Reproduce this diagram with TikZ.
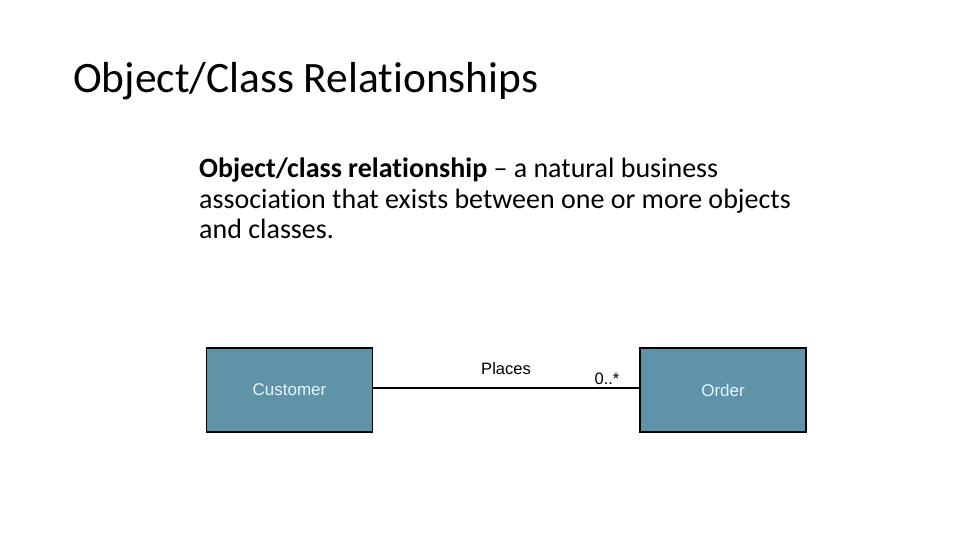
\documentclass[tikz,border=0pt]{standalone}
\usepackage{fontspec}
\setmainfont[Ligatures={NoCommon}]{Carlito}
\newfontfamily\arialf{Liberation Sans}
\definecolor{boxfill}{HTML}{5F93A8}
\definecolor{boxtext}{HTML}{E2F6FF}
\begin{document}
\begin{tikzpicture}[x=1pt,y=-1pt,
  classbox/.style={draw=black,line width=1.5pt,fill=boxfill,minimum width=166pt,minimum height=84pt,inner sep=0pt,text=boxtext,font=\arialf\fontsize{17}{19}\selectfont},
  lbl/.style={font=\arialf\fontsize{16.5}{18}\selectfont,inner sep=0pt},
  body/.style={anchor=base west,inner sep=0pt,font=\fontsize{28}{30}\selectfont}]
\useasboundingbox (0,0) rectangle (960,540);
\node[anchor=base west,inner sep=0pt,font=\fontsize{43.4}{48}\selectfont] (title) at (73,93) {Object/Class Relationships};
\node[body] (def1) at (199,178) {\textbf{Object/class relationship} -- a natural business};
\node[body] (def2) at (199,208) {association that exists between one or more objects};
\node[body] (def3) at (199,238) {and classes.};
\node[classbox] (cust) at (289.5,390) {Customer};
\node[classbox] (ord) at (723,390) {Order};
\draw[line width=1.3pt] (cust.east |- 0,388) -- (ord.west |- 0,388);
\node[lbl] (places) at (506,369) {Places};
\node[lbl] (mult) at (607,379) {0..*};
\end{tikzpicture}
\end{document}
